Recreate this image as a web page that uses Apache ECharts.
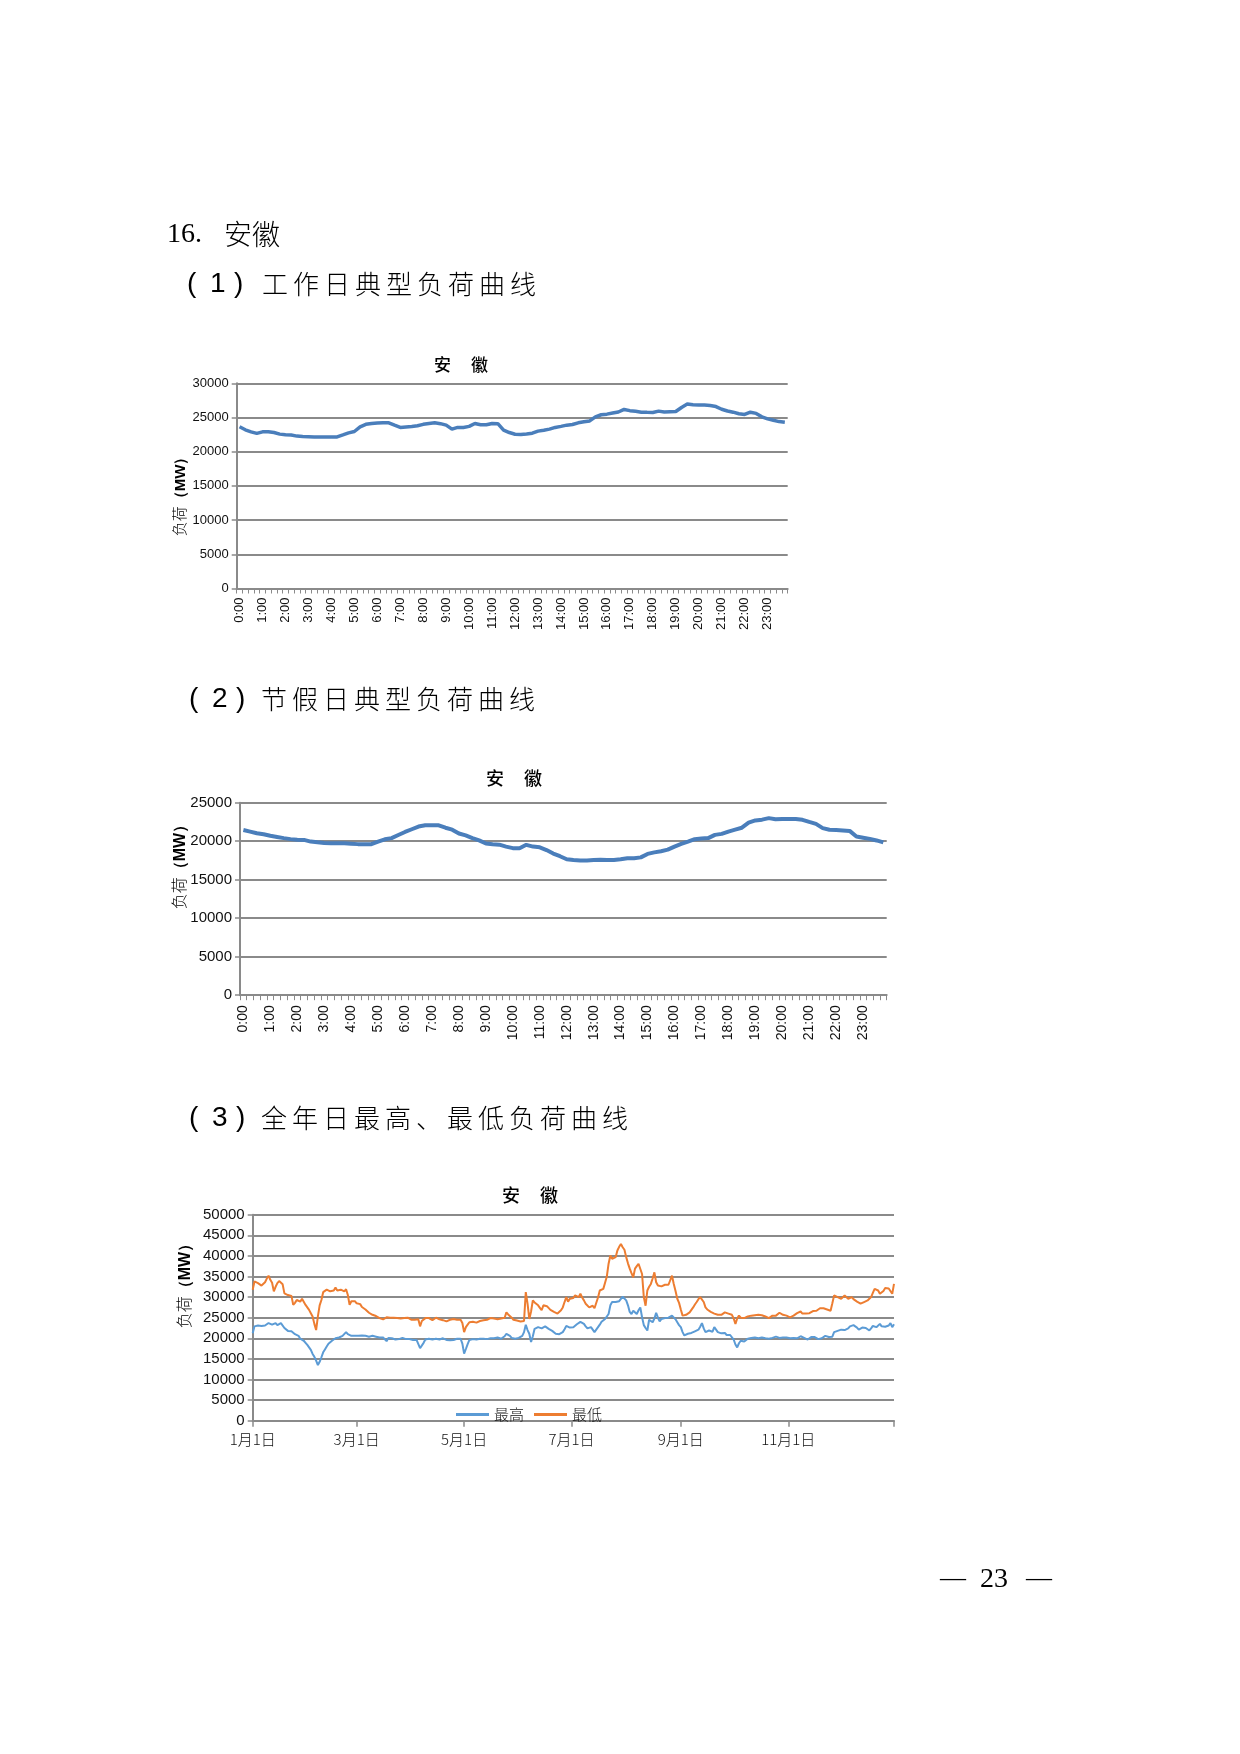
<!DOCTYPE html>
<html><head><meta charset="utf-8">
<script src="https://cdn.jsdelivr.net/npm/echarts@6/dist/echarts.min.js"></script>
<style>
html,body{margin:0;padding:0;background:#fff;}
#page{position:relative;width:1240px;height:1754px;overflow:hidden;}
#chart{position:absolute;left:0;top:0;width:1240px;height:1754px;}
.t{position:absolute;white-space:nowrap;color:#000;line-height:1;}
.cjk{font-family:"Noto Sans CJK SC";font-weight:300;}
.ser{font-family:"Liberation Serif";}
.san{font-family:"Liberation Sans";}
.yname{position:absolute;white-space:nowrap;transform:translate(-50%,-50%) rotate(-90deg);color:#000;line-height:1;}
.ttl{letter-spacing:8px;}
</style></head><body>
<div id="page">
<div id="chart"></div>

<div class="t ser" style="left:167px;top:219px;font-size:28px;">16.</div>
<div class="t cjk" style="left:224px;top:219px;font-size:28px;">安徽</div>

<div class="t san" style="left:187px;top:269px;font-size:28px;">(</div>
<div class="t san" style="left:210px;top:269px;font-size:28px;">1</div>
<div class="t san" style="left:234px;top:269px;font-size:28px;">)</div>
<div class="t cjk" style="left:262px;top:270px;font-size:26px;letter-spacing:5px;">工作日典型负荷曲线</div>
<div class="t cjk ttl" style="left:465px;top:363px;font-size:17px;font-weight:500;transform:translate(-50%,-50%);">安 徽</div>
<div class="yname" style="left:179px;top:493px;"><span class="cjk" style="font-size:15px;">负荷</span><span class="san" style="font-size:15px;font-weight:bold;">（MW）</span></div>

<div class="t san" style="left:189px;top:684px;font-size:28px;">(</div>
<div class="t san" style="left:212px;top:684px;font-size:28px;">2</div>
<div class="t san" style="left:236px;top:684px;font-size:28px;">)</div>
<div class="t cjk" style="left:261px;top:685px;font-size:26px;letter-spacing:5px;">节假日典型负荷曲线</div>
<div class="t cjk ttl" style="left:518px;top:777px;font-size:18px;font-weight:500;transform:translate(-50%,-50%);">安 徽</div>
<div class="yname" style="left:179px;top:863px;"><span class="cjk" style="font-size:16px;">负荷</span><span class="san" style="font-size:16px;font-weight:bold;">（MW）</span></div>

<div class="t san" style="left:189px;top:1103px;font-size:28px;">(</div>
<div class="t san" style="left:212px;top:1103px;font-size:28px;">3</div>
<div class="t san" style="left:236px;top:1103px;font-size:28px;">)</div>
<div class="t cjk" style="left:261px;top:1104px;font-size:26px;letter-spacing:5px;">全年日最高、最低负荷曲线</div>
<div class="t cjk ttl" style="left:534px;top:1194px;font-size:18px;font-weight:500;transform:translate(-50%,-50%);">安 徽</div>
<div class="yname" style="left:184px;top:1282px;"><span class="cjk" style="font-size:16px;">负荷</span><span class="san" style="font-size:16px;font-weight:bold;">（MW）</span></div>

<div class="t ser" style="left:940px;top:1565px;font-size:26px;">—</div>
<div class="t ser" style="left:980px;top:1564px;font-size:28px;">23</div>
<div class="t ser" style="left:1026px;top:1565px;font-size:26px;">—</div>
</div>

<script>
// ---- data ----
const hourLabels = ['0:00','1:00','2:00','3:00','4:00','5:00','6:00','7:00','8:00','9:00','10:00','11:00',
  '12:00','13:00','14:00','15:00','16:00','17:00','18:00','19:00','20:00','21:00','22:00','23:00'];

const workdayLoad = [
  23640,23200,22900,22670,22900,22910,22800,22570,22480,22430,
  22280,22220,22180,22140,22140,22140,22150,22160,22450,22750,
  22950,23640,24000,24130,24200,24220,24220,23880,23550,23620,
  23680,23790,24000,24130,24220,24100,23880,23300,23550,23550,
  23700,24130,23950,23930,24130,24100,23160,22800,22550,22520,
  22600,22700,23010,23150,23300,23550,23700,23880,23970,24220,
  24370,24500,25100,25400,25490,25650,25800,26180,26000,25900,
  25780,25750,25735,25930,25800,25850,25880,26470,26960,26850,
  26810,26810,26750,26600,26200,25950,25780,25550,25440,25780,
  25600,25100,24800,24600,24400,24300
];

const holidayLoad = [
  21450,21250,21030,20900,20700,20550,20400,20270,20200,20170,
  19950,19850,19760,19740,19740,19740,19680,19620,19610,19620,
  19950,20250,20400,20800,21200,21550,21900,22070,22080,22070,
  21750,21500,21000,20750,20400,20100,19700,19600,19550,19300,
  19100,19080,19530,19300,19200,18850,18400,18050,17650,17550,
  17500,17500,17550,17580,17550,17560,17650,17780,17800,17900,
  18350,18550,18700,18900,19300,19660,19950,20260,20350,20400,
  20820,20950,21250,21500,21750,22400,22700,22800,23000,22850,
  22870,22890,22880,22780,22500,22250,21700,21480,21450,21400,
  21340,20600,20450,20300,20100,19850
];

const yearTickIdx = [0, 59, 120, 181, 243, 304, 364];
const yearTickLabels = ['1月1日', '3月1日', '5月1日', '7月1日', '9月1日', '11月1日', ''];

// 最高 (blue)
const yearMax = [
  21200,22900,22700,23100,22800,23000,23300,23100,23500,23700,
  23400,23300,23600,23700,23200,22800,23700,23500,22500,22400,
  21800,21600,21700,21400,21000,21200,20600,19900,19600,19400,
  18900,18400,17800,17200,16200,15500,14600,13500,14300,15400,
  16600,17300,18000,18700,19100,19400,19700,20000,20100,20200,
  20400,20600,20800,21500,21000,20700,20600,20800,20600,20700,
  20600,20800,20700,20500,20600,20700,20400,20500,20600,20300,
  20400,20300,20200,19900,20200,19800,19300,20100,19900,20000,
  19900,19700,20000,19800,19900,20100,19900,19800,19700,19800,
  19700,19600,19500,19600,19400,17600,18000,18900,19700,19800,
  19900,19900,19700,19800,19900,19800,19700,19900,20000,19700,
  19600,19300,19500,19700,19600,19800,19900,19800,19900,18700,
  16300,17400,18600,19600,19700,19800,19900,19700,19800,19900,
  19700,19900,20000,19800,19900,20000,20100,20000,20300,20200,
  20100,19900,20000,20500,21100,21500,20600,20100,20000,19900,
  20000,20100,20300,20600,21500,23300,22000,21100,19100,20500,
  22300,22500,22700,22600,22400,22600,22900,22800,22300,22000,
  21800,21400,21100,21300,21000,20700,21500,22200,23000,23400,
  22600,22300,22700,23100,23400,23600,24000,24300,23500,22900,
  22400,22300,22700,22500,21500,21100,22700,23300,24000,24400,
  24700,25300,25900,28000,28800,29200,28800,28700,29000,29200,
  30100,29800,29200,28000,26400,25900,26700,26300,25900,26800,
  27500,25100,23200,22500,21900,24500,24200,23900,24800,26200,
  25000,24100,24700,25100,24900,24700,25000,25100,25500,25900,
  24600,23900,23200,22700,21500,20700,20900,21100,21000,21300,
  21500,21700,21900,22100,22800,23700,22400,21500,21700,21900,
  21500,21600,22700,22100,21500,21300,21200,21100,21300,20800,
  20900,20800,20400,19700,18500,17800,18800,19400,19600,19200,
  19500,19900,20200,20100,20300,20200,20200,20000,20300,20200,
  20100,20000,20200,19900,19800,20100,20300,20400,20200,20100,
  20300,20200,20000,20200,20100,20000,19900,20100,19800,20000,
  20200,20500,20300,20100,19900,19700,20000,20300,20600,20300,
  20100,19800,19700,20000,20400,20600,20400,20300,20200,20400,
  21500,21900,21800,22000,22100,21900,22000,22100,22400,22900,
  23100,23200,22900,22600,22100,21900,22600,22900,22500,22200,
  21900,22400,23000,22900,22700,23100,23500,22900,22700,22800,
  22600,23100,23700,22700,23400
];

// 最低 (orange)
const yearMin = [
  31800,33800,33500,33400,33000,32800,33200,33600,34500,35200,
  34200,33500,31400,32500,33400,33900,33500,33100,30900,30700,
  30500,30600,30300,28100,28600,29300,29100,28900,29600,29700,
  28100,28500,26900,26100,25300,23500,22000,25300,28000,29300,
  31200,31500,31800,31500,31400,31500,31600,32300,31600,31400,
  31800,31700,31400,31900,30500,28100,29000,29300,29000,28500,
  28100,28300,27600,27300,27000,26700,26200,25900,25700,25500,
  25400,25300,24900,24700,24600,24700,25100,24900,25000,25300,
  25000,24800,24900,24700,24800,25000,24900,24800,25000,24700,
  24500,24200,24500,24300,24600,22900,24200,24600,24900,25000,
  24900,24700,24400,24700,25000,24800,24600,24700,24400,24300,
  24100,24300,24500,24600,24700,24900,24500,24300,24500,23700,
  21500,22700,23300,23900,24100,24000,23900,23800,24000,24200,
  24300,24400,24300,24500,24600,24900,25300,24800,24700,24600,
  24500,24800,24600,25000,26300,25800,25500,25000,24500,24400,
  24300,24200,24100,24300,24200,31200,28400,24700,26500,29200,
  28700,28300,28000,27400,26800,28000,28400,27800,27500,26900,
  26700,26400,26100,26000,25600,26800,27500,28800,30000,28900,
  29600,29300,29800,30400,30100,30000,30800,29900,29200,28400,
  28000,27500,27800,27900,27300,27000,29900,31600,31800,32000,
  33500,35000,38100,40100,39300,39700,39700,41300,42200,42900,
  42100,41500,39700,38200,36900,35800,34800,36900,37500,38100,
  38500,35600,30000,27900,31600,32500,33200,34500,36000,33600,
  32800,32400,32600,32800,33000,33200,33000,33000,35200,33200,
  31500,29600,28600,27000,25500,25400,25700,26000,26300,26900,
  27500,28200,28800,29500,30000,30200,28800,27500,27000,26700,
  26400,26200,26000,25800,25700,25600,25700,25900,26300,26100,
  26000,26200,25700,24800,23500,24800,25500,25000,24700,24900,
  25100,25300,25200,25500,25400,25600,25500,25700,25400,25600,
  25500,25300,25100,24900,25200,25500,25700,25500,25900,26200,
  25900,25700,25700,25500,25300,25100,25100,25500,25900,26100,
  26400,26500,26000,25700,26000,26300,26100,26300,26600,26700,
  26700,27000,27300,27500,27300,27100,27000,26900,26700,28500,
  30400,30200,30000,29700,29600,30000,30400,30000,29600,29800,
  30000,29500,29200,28900,28800,28400,28400,28800,29000,29200,
  29600,30000,31000,32000,31800,31600,30800,30400,31500,32200,
  32000,32100,32400,30800,33200
];

// ---- build ----
const dayCats = [];
hourLabels.forEach(h => { const hh = h.split(':')[0]; dayCats.push(h, hh+':15', hh+':30', hh+':45'); });
const yearCats = yearMax.map((_, i) => String(i));

const GRID = '#8a8a8a';
function yAx(gi, max, fs) {
  return {
    type: 'value', gridIndex: gi, min: 0, max: max, interval: 5000,
    axisLine: { show: true, lineStyle: { color: GRID, width: 2 } },
    axisTick: { show: true, length: 5, lineStyle: { color: GRID, width: 1.5 } },
    axisLabel: { color: '#111', fontSize: fs, fontFamily: 'Liberation Sans', margin: 8, formatter: (v) => String(v) },
    splitLine: { show: true, lineStyle: { color: GRID, width: 2 } }
  };
}
function xDay(gi, fs, mg) {
  return {
    type: 'category', gridIndex: gi, data: dayCats, boundaryGap: true,
    axisLine: { show: true, lineStyle: { color: GRID, width: 2 } },
    axisTick: { show: true, interval: 0, length: 5, lineStyle: { color: GRID, width: 1 } },
    axisLabel: { interval: 3, rotate: 90, fontSize: fs, fontFamily: 'Liberation Sans', color: '#111', margin: mg }
  };
}

const chart = echarts.init(document.getElementById('chart'), null, { renderer: 'canvas' });
chart.setOption({
  animation: false,
  backgroundColor: 'transparent',
  grid: [
    { left: 236.7, top: 383.3, width: 551, height: 205.2 },
    { left: 240, top: 802.7, width: 646.7, height: 192.5 },
    { left: 252.7, top: 1214.7, width: 641.3, height: 206 }
  ],
  xAxis: [
    xDay(0, 13, 9),
    xDay(1, 14, 10),
    {
      type: 'category', gridIndex: 2, data: yearCats, boundaryGap: false,
      axisLine: { show: true, lineStyle: { color: GRID, width: 2 } },
      axisTick: { show: true, length: 6, lineStyle: { color: GRID, width: 1.5 },
        interval: (i) => yearTickIdx.indexOf(i) >= 0 },
      axisLabel: { fontSize: 15, fontFamily: 'Noto Sans CJK SC', fontWeight: 300, color: '#111', margin: 11,
        interval: (i) => yearTickIdx.indexOf(i) >= 0 && yearTickLabels[yearTickIdx.indexOf(i)] !== '',
        formatter: (v) => { const k = yearTickIdx.indexOf(Number(v)); return k >= 0 ? yearTickLabels[k] : ''; } },
      splitLine: { show: false }
    }
  ],
  yAxis: [ yAx(0, 30000, 13), yAx(1, 25000, 15), yAx(2, 50000, 15) ],
  legend: {
    data: [{ name: '最高', icon: 'rect' }, { name: '最低', icon: 'rect' }],
    left: 451, top: 1402, itemWidth: 33, itemHeight: 3, itemGap: 10,
    textStyle: { fontSize: 15, fontFamily: 'Noto Sans CJK SC', fontWeight: 300, color: '#111' }
  },
  series: [
    { name: '工作日', type: 'line', xAxisIndex: 0, yAxisIndex: 0, data: workdayLoad, showSymbol: false, symbol: 'none',
      lineStyle: { color: '#4A7EBB', width: 3.5 } },
    { name: '节假日', type: 'line', xAxisIndex: 1, yAxisIndex: 1, data: holidayLoad, showSymbol: false, symbol: 'none',
      lineStyle: { color: '#4A7EBB', width: 4 } },
    { name: '最高', type: 'line', xAxisIndex: 2, yAxisIndex: 2, data: yearMax, showSymbol: false, symbol: 'none',
      itemStyle: { color: '#5B9BD5' }, lineStyle: { color: '#5B9BD5', width: 2 } },
    { name: '最低', type: 'line', xAxisIndex: 2, yAxisIndex: 2, data: yearMin, showSymbol: false, symbol: 'none',
      itemStyle: { color: '#ED7D31' }, lineStyle: { color: '#ED7D31', width: 2 } }
  ]
});
</script>
</body></html>
